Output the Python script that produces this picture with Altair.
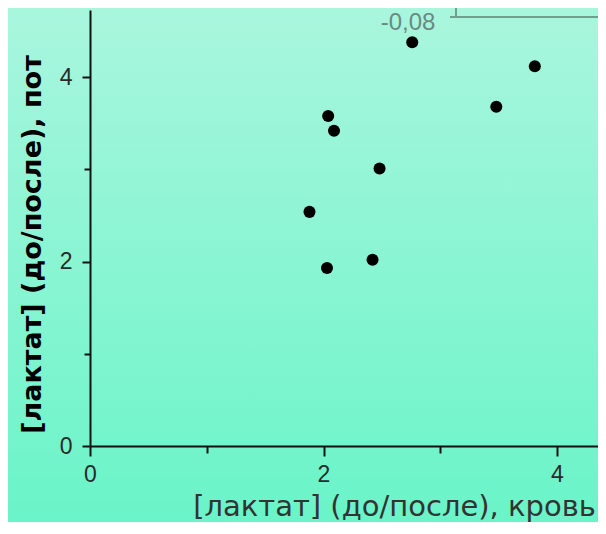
import altair as alt
import pandas as pd

# Data
blood = [2.76, 3.81, 3.48, 2.04, 2.09, 2.48, 1.88, 2.42, 2.03]
sweat = [4.38, 4.12, 3.68, 3.58, 3.42, 3.01, 2.54, 2.02, 1.93]
x_ticks = [0, 1, 2, 3, 4]
y_ticks = [0, 1, 2, 3, 4]
corr_label = "-0,08"
x_title = "[лактат] (до/после), кровь"
y_title = "[лактат] (до/после), пот"

df = pd.DataFrame({"blood": blood, "sweat": sweat})

W, H = 508, 436
PAD = {"left": 82, "top": 2, "right": 0, "bottom": 76}
LABEL_FONT = "Liberation Sans Narrow, Arial Narrow, Liberation Sans, sans-serif"

bg = alt.Chart(pd.DataFrame({"a": [0]})).mark_rect(
    color=alt.LinearGradient(
        gradient="linear",
        stops=[alt.GradientStop(offset=0, color="#a9f6dd"),
               alt.GradientStop(offset=1, color="#6af4c8")],
        x1=0, y1=0, x2=0, y2=1,
    )
).encode(
    x=alt.value(-PAD["left"]), x2=alt.value(W + PAD["right"]),
    y=alt.value(-PAD["top"]), y2=alt.value(H + PAD["bottom"]),
)

box_h = alt.Chart(pd.DataFrame({"a": [0]})).mark_rule(
    color="#6f9f8d", strokeWidth=2
).encode(x=alt.value(360), x2=alt.value(W), y=alt.value(7))
box_v = alt.Chart(pd.DataFrame({"a": [0]})).mark_rule(
    color="#6f9f8d", strokeWidth=2
).encode(x=alt.value(366), y=alt.value(-2), y2=alt.value(7))

label = alt.Chart(pd.DataFrame({"t": [corr_label]})).mark_text(
    font=LABEL_FONT, fontSize=24, color="#6a8a80",
    align="center", baseline="alphabetic"
).encode(x=alt.value(318), y=alt.value(20), text="t:N")

xscale = alt.Scale(domain=[0, W / 116.75], nice=False, zero=False)
yscale = alt.Scale(domain=[0, 4.73], nice=False, zero=False)

major_test = "datum.value % 2 === 0"

points = alt.Chart(df).mark_circle(size=145, color="#000000", opacity=1).encode(
    x=alt.X("blood:Q", scale=xscale, axis=alt.Axis(
        values=x_ticks, title=x_title, grid=False, zindex=1, labelFlush=False,
        labelExpr=f"{major_test} ? datum.label : ''",
        domainColor="#111111", domainWidth=2, tickColor="#111111", tickWidth=2,
        tickSize={"condition": {"test": major_test, "value": 10}, "value": 7},
        labelFont=LABEL_FONT, labelFontSize=23, labelColor="#2a2a2a", labelPadding=7,
        titleFont="DejaVu Sans, sans-serif", titleFontSize=29,
        titleFontWeight="normal", titleColor="#333333",
        titleX=304, titleY=69, titleAlign="center", titleBaseline="alphabetic",
    )),
    y=alt.Y("sweat:Q", scale=yscale, axis=alt.Axis(
        values=y_ticks, title=y_title, grid=False, zindex=1, labelFlush=False,
        labelExpr=f"{major_test} ? datum.label : ''",
        domainColor="#111111", domainWidth=2, tickColor="#111111", tickWidth=2,
        tickSize={"condition": {"test": major_test, "value": 8}, "value": 6},
        labelFont=LABEL_FONT, labelFontSize=23, labelColor="#2a2a2a", labelPadding=10,
        titleFont="DejaVu Sans, sans-serif", titleFontSize=27,
        titleFontWeight="bold", titleColor="#000000", titleAngle=-90,
        titleX=-50, titleY=234, titleAlign="center", titleBaseline="alphabetic",
    )),
)

chart = alt.layer(bg, box_h, box_v, label, points).properties(
    width=W, height=H, padding=PAD, autosize=alt.AutoSizeParams(type="none"),
    background="#8cf5d4",
).configure_view(stroke=None)

chart.save("out.html", embed_options={"renderer": "svg", "actions": False})
